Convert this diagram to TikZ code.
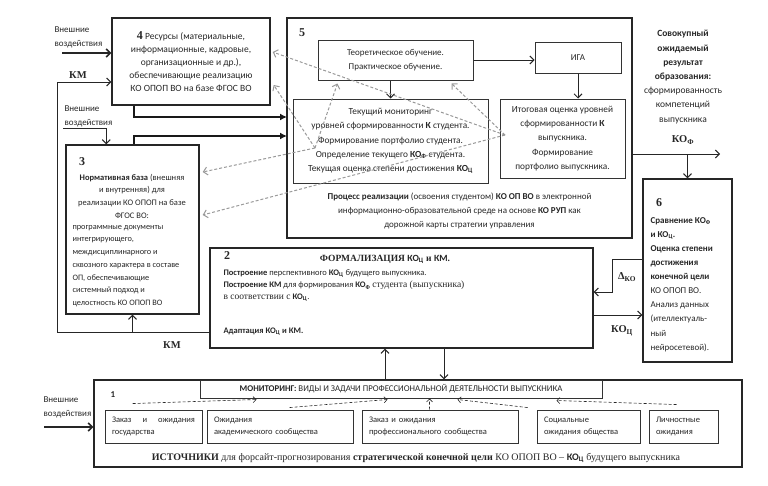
\documentclass[tikz,border=0pt]{standalone}
\usepackage{fontspec}
\setmainfont{Carlito}
\newfontfamily\tnr{Liberation Serif}
\usetikzlibrary{calc,arrows.meta}

\newcommand{\fsz}[2]{\fontsize{#1}{#2}\selectfont}
\newcommand{\KOc}{КО\textsubscript{Ц}}
\newcommand{\KOf}{КО\textsubscript{Ф}}

\tikzset{
  box/.style={draw=black!85, line width=1.4pt},
  inbox/.style={draw=black!80, line width=1pt, align=center},
  src/.style={draw=black!80, line width=0.9pt, align=left, minimum height=33pt, inner xsep=7pt, font=\fsz{8.5}{12}},
  num/.style={font=\tnr\bfseries\fsz{12}{12}},
  lbl/.style={font=\tnr\bfseries\fsz{10.5}{12}},
  flow/.style={draw=black!85, line width=1pt, -{Straight Barb[length=4pt,width=8pt]}},
  bigflow/.style={draw=black!90, line width=2pt, -{Latex[length=7pt,width=7pt]}},
  fb/.style={draw=black!40, densely dashed, line width=1pt, -{Straight Barb[length=4pt,width=8pt]}},
  mdash/.style={draw=black!85, densely dashed, line width=0.6pt, -{Straight Barb[length=3pt,width=6pt]}},
}

\begin{document}
\begin{tikzpicture}[x=1pt, y=-1pt, font=\fsz{9}{14}, text=black!85]
  \useasboundingbox (0,0) rectangle (768,485);

  % outer inputs
  \node[align=left, anchor=west] (ext1) at (51,37) {Внешние\\воздействия};
  \node[align=left, anchor=west] (ext2) at (61,116.5) {Внешние\\воздействия};
  \node[align=left, anchor=west] (ext3) at (40,407) {Внешние\\воздействия};
  \node[lbl] (km1) at (78,75) {КМ};
  \node[lbl] (km2) at (172,345) {КМ};

  % 4
  \node[box, minimum width=158pt, minimum height=87pt, align=center, font=\fsz{9.5}{13}] (b4) at (191,61.5)
    {{\tnr\bfseries\fsz{12}{12}4} Ресурсы (материальные,\\ информационные, кадровые,\\ организационные и др.),\\ обеспечивающие реализацию\\ КО ОПОП ВО на базе ФГОС ВО};

  % 3
  \node[box, minimum width=133pt, minimum height=169pt] (b3) at (132.5,229.5) {};
  \node[num] (n3) at (82,162) {3};
  \node[align=center, font=\fsz{8.5}{12.7}] (b3head) at (132,196)
    {\textbf{Нормативная база} (внешняя\\ и внутренняя) для\\ реализации КО ОПОП на базе\\ ФГОС ВО:};
  \node[align=left, anchor=west, font=\fsz{8.3}{12.7}] (b3body) at (69,266)
    {программные документы\\ интегрирующего,\\ междисциплинарного и\\ сквозного характера в составе\\ ОП, обеспечивающие\\ системный подход и\\ целостность КО ОПОП ВО};

  % 5
  \node[box, minimum width=345pt, minimum height=220pt] (b5) at (459.5,128) {};
  \node[num] (n5) at (302,33) {5};
  \node[inbox, minimum width=155pt, minimum height=40pt, font=\fsz{9}{13.5}] (teor) at (395.5,60)
    {Теоретическое обучение.\\ Практическое обучение.};
  \node[inbox, minimum width=86pt, minimum height=31pt] (iga) at (578,57.5) {ИГА};
  \node[inbox, minimum width=195pt, minimum height=84pt, font=\fsz{9.3}{14.2}] (tek) at (390.5,141)
    {Текущий мониторинг\\ уровней сформированности \textbf{К} студента.\\ Формирование портфолио студента.\\ Определение текущего \textbf{\KOf} студента.\\ Текущая оценка степени достижения \textbf{\KOc}};
  \node[inbox, minimum width=125pt, minimum height=79pt, font=\fsz{9.3}{14.2}] (itog) at (562.5,138.5)
    {Итоговая оценка уровней\\ сформированности \textbf{К}\\ выпускника.\\ Формирование\\ портфолио выпускника.};
  \node[align=center, font=\fsz{9}{14}] (proc) at (459.5,211)
    {\textbf{Процесс реализации} (освоения студентом) \textbf{КО ОП ВО} в электронной\\ информационно-образовательной среде на основе \textbf{КО РУП} как\\ дорожной карты стратегии управления};

  % result
  \node[align=center, font=\fsz{9.5}{14.2}] (result) at (683,77)
    {\textbf{Совокупный}\\ \textbf{ожидаемый}\\ \textbf{результат}\\ \textbf{образования:}\\ сформированность\\ компетенций\\ выпускника};
  \node[lbl] (kof) at (683,140) {\KOf};

  % 6
  \node[box, minimum width=89pt, minimum height=183pt] (b6) at (687.5,270.5) {};
  \node[num] (n6) at (659,203) {6};
  \node[align=left, anchor=west, font=\fsz{9}{14.1}] (b6txt) at (647,284.5)
    {\textbf{Сравнение \KOf}\\ \textbf{и \KOc.}\\ \textbf{Оценка степени}\\ \textbf{достижения}\\ \textbf{конечной цели}\\ КО ОПОП ВО.\\ Анализ данных\\ (ителлектуаль-\\ ный\\ нейросетевой).};
  \node[lbl] (dko) at (627,277) {Δ\textsubscript{КО}};
  \node[lbl] (koc) at (622,331) {\KOc};

  % 2
  \node[box, minimum width=383pt, minimum height=100pt] (b2) at (401.5,298) {};
  \node[num] (n2) at (227,256) {2};
  \node[font=\tnr\bfseries\fsz{9.5}{11}] (b2title) at (385,259) {ФОРМАЛИЗАЦИЯ {\rmfamily\KOc} и {\rmfamily КМ}.};
  \node[align=left, anchor=west, font=\fsz{8.5}{12}] (b2txt) at (220,303)
    {\textbf{Построение} перспективного \textbf{\KOc} будущего выпускника.\\ \textbf{Построение КМ} для формирования \textbf{\KOf} {\tnr\fsz{9.5}{12}студента (выпускника)}\\ {\tnr\fsz{9.5}{12}в соответствии с} \textbf{\KOc}.\\[22pt] \textbf{Адаптация \KOc{} и КМ.}};

  % 1
  \node[box, minimum width=648pt, minimum height=87pt] (b1) at (418,423.5) {};
  \node[inbox, minimum width=402pt, minimum height=18pt, inner sep=0pt, font=\fsz{8.8}{10}] (mon) at (401,389)
    {\textbf{МОНИТОРИНГ:} ВИДЫ И ЗАДАЧИ ПРОФЕССИОНАЛЬНОЙ ДЕЯТЕЛЬНОСТИ ВЫПУСКНИКА};
  \node[font=\bfseries\fsz{9}{10}] (n1) at (113,395) {1};
  \node[src, text width=83pt] (src1) at (153.5,426.5) {Заказ\hfill и\hfill ожидания\\ государства};
  \node[src, text width=132pt] (src2) at (280,426.5) {Ожидания\\ академического сообщества};
  \node[src, text width=142pt] (src3) at (440,426.5) {Заказ и ожидания\\ профессионального сообщества};
  \node[src, text width=89pt] (src4) at (588.5,426.5) {Социальные\\ ожидания общества};
  \node[src, text width=55pt] (src5) at (683.5,426.5) {Личностные\\ ожидания};
  \node[font=\tnr\fsz{10}{12}] (srcs) at (416,458)
    {\textbf{ИСТОЧНИКИ} для форсайт-прогнозирования \textbf{стратегической конечной цели} КО ОПОП ВО – {\rmfamily\bfseries\KOc} будущего выпускника};

  % connectors
  \coordinate (e1a) at (62,53);
  \coordinate (e2a) at (63,128);
  \coordinate (e3a) at (44,427);
  \coordinate (kmc) at (57,332);
  \coordinate (kmt) at (57,82);
  \coordinate (in4) at (287,117);
  \coordinate (in3) at (287,136);
  \coordinate (res) at (720,154);
  \coordinate (dk1) at (612,259);
  \coordinate (dk2) at (612,292);
  \coordinate (kc) at (600,315);
  \coordinate (upx) at (385,0);
  \coordinate (dnx) at (444,0);

  \draw[flow, line width=1.6pt] (e1a) -- (e1a -| b4.west);
  \draw[flow] (e2a) -| ($(b3.north west)+(41,0)$);
  \draw[flow, line width=1.6pt] (e3a) -- (e3a -| b1.west);
  \draw[flow] (b2.west |- kmc) -- (kmc) -- (kmt) -- (kmt -| b4.west);
  \draw[flow] (b3.south |- kmc) -- (b3.south);
  \draw[bigflow] ($(b4.south west)+(23,0)$) |- (in4);
  \draw[bigflow] ($(b3.north west)+(69,0)$) |- (in3);

  \draw[flow] (teor.east) -- (teor.east -| iga.west);
  \draw[flow] (iga.south) -- (iga.south |- itog.north);
  \draw[flow] (tek.north |- teor.south) -- (tek.north);

  \draw[flow] (b5.east |- res) -- (res);
  \draw[flow] (b6.north |- res) -- (b6.north);
  \draw[flow] (b6.west |- dk1) -- (dk1) -- (dk2) -- (dk2 -| b2.east);
  \draw[flow] (b2.east |- kc) -- (b6.west |- kc);
  \draw[flow] (b1.north -| upx) -- (b2.south -| upx);
  \draw[flow] (b2.south -| dnx) -- (b1.north -| dnx);

  % feedback
  \coordinate (fbi) at (505,135);
  \coordinate (fbt) at (315,148);
  \draw[fb] (fbi) -- ($(b4.east)+(2,-9.5)$);
  \draw[fb] (fbi) -- ($(teor.south)+(56,3)$);
  \draw[fb] (fbi) -- ($(b3.east)+(3,-14.5)$);
  \draw[fb] (fbt) -- ($(b4.east)+(3,23.5)$);
  \draw[fb] (fbt) -- ($(teor.south)+(-58,3)$);
  \draw[fb] (fbt) -- ($(b3.east)+(3,-57.5)$);

  % monitoring
  \draw[mdash] ($(src1.north west)+(28,-6)$) -- ($(mon.south west)+(57,1)$);
  \draw[mdash] ($(src2.north west)+(83,-2)$) -- ($(mon.south west)+(188,1)$);
  \draw[mdash] ($(src3.north west)+(68,0)$) -- ($(mon.south west)+(230,0)$);
  \draw[mdash] ($(src4.north west)+(-9,-2)$) -- ($(mon.south west)+(258,1)$);
  \draw[mdash] ($(src5.north west)+(28,-5)$) -- ($(mon.south west)+(357,2)$);
\end{tikzpicture}
\end{document}
